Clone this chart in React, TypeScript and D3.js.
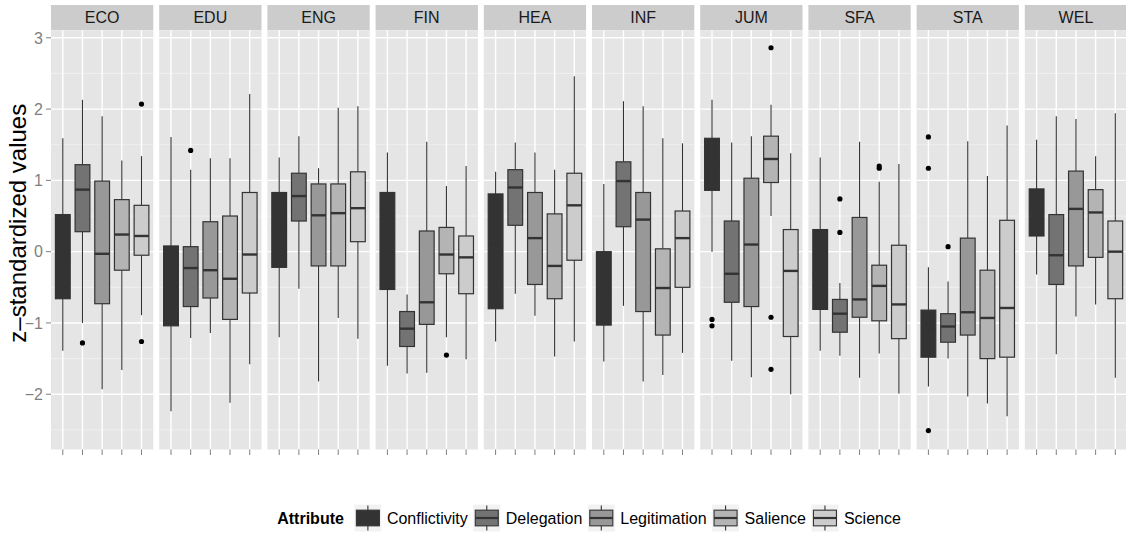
import React, { useRef, useEffect } from 'react';
import * as d3 from 'd3';

// facets and attributes
const facets = ['ECO', 'EDU', 'ENG', 'FIN', 'HEA', 'INF', 'JUM', 'SFA', 'STA', 'WEL'];
const attributes = ['Conflictivity', 'Delegation', 'Legitimation', 'Salience', 'Science'];

// box stats per facet, one row per attribute: [lower whisker, q1, median, q3, upper whisker]
const eco = [[-1.39, -0.66, -0.1, 0.52, 1.59], [-1.0, 0.28, 0.87, 1.22, 2.13], [-1.93, -0.73, -0.03, 0.99, 1.9], [-1.66, -0.26, 0.24, 0.73, 1.28], [-0.89, -0.05, 0.22, 0.65, 1.34]];
const edu = [[-2.24, -1.04, -0.3, 0.08, 1.61], [-1.21, -0.77, -0.23, 0.07, 1.15], [-1.14, -0.65, -0.26, 0.42, 1.31], [-2.12, -0.95, -0.38, 0.5, 1.31], [-1.58, -0.58, -0.04, 0.83, 2.21]];
const eng = [[-1.2, -0.22, 0.3, 0.83, 1.32], [-0.52, 0.43, 0.78, 1.1, 1.62], [-1.82, -0.2, 0.51, 0.95, 1.17], [-0.93, -0.2, 0.54, 0.95, 2.02], [-1.22, 0.14, 0.61, 1.12, 2.04]];
const fin = [[-1.6, -0.53, 0.2, 0.83, 1.39], [-1.71, -1.33, -1.08, -0.84, -0.6], [-1.7, -1.02, -0.71, 0.29, 1.54], [-1.2, -0.31, -0.04, 0.34, 0.92], [-1.51, -0.59, -0.08, 0.22, 1.2]];
const hea = [[-1.26, -0.8, 0.1, 0.81, 1.12], [-0.59, 0.37, 0.9, 1.15, 1.53], [-0.9, -0.46, 0.19, 0.83, 1.39], [-1.47, -0.66, -0.2, 0.53, 1.15], [-1.26, -0.12, 0.65, 1.1, 2.46]];
const inf = [[-1.54, -1.03, -0.5, 0.0, 0.95], [-0.76, 0.35, 0.99, 1.26, 2.11], [-1.82, -0.84, 0.45, 0.83, 2.04], [-1.73, -1.17, -0.51, 0.04, 1.59], [-1.42, -0.5, 0.19, 0.57, 1.52]];
const jum = [[0.0, 0.86, 1.2, 1.59, 2.13], [-1.53, -0.71, -0.31, 0.43, 1.53], [-1.76, -0.77, 0.1, 1.03, 1.62], [0.5, 0.97, 1.3, 1.62, 2.06], [-2.0, -1.19, -0.27, 0.31, 1.38]];
const sfa = [[-1.39, -0.81, -0.3, 0.31, 1.32], [-1.46, -1.13, -0.87, -0.67, -0.44], [-1.77, -0.92, -0.67, 0.48, 1.54], [-1.43, -0.97, -0.48, -0.19, 0.98], [-1.99, -1.22, -0.74, 0.09, 1.23]];
const sta = [[-1.89, -1.48, -1.1, -0.82, -0.22], [-1.5, -1.27, -1.05, -0.87, -0.42], [-2.03, -1.17, -0.85, 0.19, 1.55], [-2.13, -1.5, -0.93, -0.26, 1.06], [-2.31, -1.48, -0.79, 0.44, 1.77]];
const wel = [[-0.32, 0.22, 0.6, 0.88, 1.57], [-1.44, -0.46, -0.05, 0.52, 1.9], [-0.91, -0.2, 0.6, 1.13, 1.86], [-0.74, -0.08, 0.55, 0.87, 1.34], [-1.77, -0.66, 0.0, 0.43, 1.94]];
const boxStats = [eco, edu, eng, fin, hea, inf, jum, sfa, sta, wel];

// outliers: [facet, attribute index, value]
const outliers: [string, number, number][] = [
  ['ECO', 1, -1.28], ['ECO', 4, 2.07], ['ECO', 4, -1.26],
  ['EDU', 1, 1.42],
  ['FIN', 3, -1.45],
  ['JUM', 0, -0.95], ['JUM', 0, -1.04], ['JUM', 3, 2.86], ['JUM', 3, -0.92], ['JUM', 3, -1.65],
  ['SFA', 1, 0.74], ['SFA', 1, 0.27], ['SFA', 3, 1.17], ['SFA', 3, 1.2],
  ['STA', 0, 1.61], ['STA', 0, 1.17], ['STA', 0, -2.51], ['STA', 1, 0.07],
];

const yTicks = [-2, -1, 0, 1, 2, 3];
const yMinor = [-2.5, -1.5, -0.5, 0.5, 1.5, 2.5];

const fills = ['#333333', '#737373', '#989898', '#B4B4B4', '#CCCCCC'];
const FONT = '"Liberation Sans", Arial, Helvetica, sans-serif';

function App() {
  const svgRef = useRef<SVGSVGElement | null>(null);
  const width = 1126;
  const height = 534;

  useEffect(() => {
    const svg = d3.select(svgRef.current);
    svg.selectAll('*').remove();
    svg.attr('width', width).attr('height', height).style('font-family', FONT);

    const panelLeft = 51;
    const panelStep = 108.2;
    const panelW = 102.3;
    const stripTop = 5;
    const panelTop = 30.3;
    const panelBottom = 449.5;

    const y = d3.scaleLinear().domain([-2.775, 3.105]).range([panelBottom, panelTop]);
    const x = d3.scalePoint<string>().domain(attributes).range([0, panelW]).padding(0.6);
    const boxW = x.step() * 0.75;
    const color = d3.scaleOrdinal<string, string>().domain(attributes).range(fills);

    // y axis
    const yAxis = svg.append('g');
    yTicks.forEach(t => {
      yAxis.append('line')
        .attr('x1', panelLeft - 5).attr('x2', panelLeft)
        .attr('y1', y(t)).attr('y2', y(t))
        .attr('stroke', '#7F7F7F').attr('stroke-width', 1);
      yAxis.append('text')
        .attr('x', panelLeft - 8).attr('y', y(t))
        .attr('dy', '0.36em')
        .attr('text-anchor', 'end')
        .style('font-size', '16px')
        .attr('fill', '#7F7F7F')
        .text(t < 0 ? '\u2212' + Math.abs(t) : String(t));
    });

    svg.append('text')
      .attr('transform', `translate(26,${(stripTop + panelBottom) / 2 - 4}) rotate(-90)`)
      .attr('text-anchor', 'middle')
      .style('font-size', '24px')
      .attr('fill', '#000')
      .text('z\u2013standardized values');

    facets.forEach((facet, fi) => {
      const px = panelLeft + fi * panelStep;
      const g = svg.append('g').attr('transform', `translate(${px},0)`);

      // strip
      g.append('rect')
        .attr('x', 0).attr('y', stripTop)
        .attr('width', panelW).attr('height', panelTop - stripTop)
        .attr('fill', '#CCCCCC');
      g.append('text')
        .attr('x', panelW / 2).attr('y', (stripTop + panelTop) / 2)
        .attr('dy', '0.36em')
        .attr('text-anchor', 'middle')
        .style('font-size', '16px')
        .attr('fill', '#1A1A1A')
        .text(facet);

      // panel background
      g.append('rect')
        .attr('x', 0).attr('y', panelTop)
        .attr('width', panelW).attr('height', panelBottom - panelTop)
        .attr('fill', '#E5E5E5');

      yMinor.forEach(t => {
        g.append('line')
          .attr('x1', 0).attr('x2', panelW)
          .attr('y1', y(t)).attr('y2', y(t))
          .attr('stroke', '#F2F2F2').attr('stroke-width', 0.8);
      });
      yTicks.forEach(t => {
        g.append('line')
          .attr('x1', 0).attr('x2', panelW)
          .attr('y1', y(t)).attr('y2', y(t))
          .attr('stroke', '#FFFFFF').attr('stroke-width', 1.4);
      });
      attributes.forEach(a => {
        g.append('line')
          .attr('x1', x(a)!).attr('x2', x(a)!)
          .attr('y1', panelTop).attr('y2', panelBottom)
          .attr('stroke', '#FFFFFF').attr('stroke-width', 1.4);
        // x tick marks
        g.append('line')
          .attr('x1', x(a)!).attr('x2', x(a)!)
          .attr('y1', panelBottom).attr('y2', panelBottom + 5.5)
          .attr('stroke', '#7F7F7F').attr('stroke-width', 1);
      });

      // boxes
      boxStats[fi].forEach((s, ai) => {
        const a = attributes[ai];
        const cx = x(a)!;
        const [lo, q1, med, q3, hi] = s;
        g.append('line')
          .attr('x1', cx).attr('x2', cx)
          .attr('y1', y(hi)).attr('y2', y(q3))
          .attr('stroke', '#333333').attr('stroke-width', 1.1);
        g.append('line')
          .attr('x1', cx).attr('x2', cx)
          .attr('y1', y(q1)).attr('y2', y(lo))
          .attr('stroke', '#333333').attr('stroke-width', 1.1);
        g.append('rect')
          .attr('x', cx - boxW / 2).attr('y', y(q3))
          .attr('width', boxW).attr('height', y(q1) - y(q3))
          .attr('fill', color(a))
          .attr('stroke', '#333333').attr('stroke-width', 1.2);
        g.append('line')
          .attr('x1', cx - boxW / 2).attr('x2', cx + boxW / 2)
          .attr('y1', y(med)).attr('y2', y(med))
          .attr('stroke', '#333333').attr('stroke-width', 2.4);
      });

      outliers.filter(o => o[0] === facet).forEach(o => {
        g.append('circle')
          .attr('cx', x(attributes[o[1]])!)
          .attr('cy', y(o[2]))
          .attr('r', 2.6)
          .attr('fill', '#000');
      });
    });

    // legend, centred over the panel area
    const legend = svg.append('g');
    const keySize = 28;
    const cy = 518;
    let cursor = 0;
    const title = legend.append('text')
      .attr('x', 0).attr('y', cy).attr('dy', '0.36em')
      .style('font-size', '16px').style('font-weight', 'bold')
      .text('Attribute');
    cursor += (title.node() as SVGTextElement).getComputedTextLength() + 10;
    attributes.forEach(a => {
      const k = legend.append('g').attr('transform', `translate(${cursor},${cy - keySize / 2})`);
      k.append('rect')
        .attr('width', keySize).attr('height', keySize)
        .attr('fill', '#F2F2F2').attr('stroke', '#FFFFFF');
      k.append('line')
        .attr('x1', keySize / 2).attr('x2', keySize / 2)
        .attr('y1', 1.5).attr('y2', keySize - 1.5)
        .attr('stroke', '#333333').attr('stroke-width', 1.1);
      k.append('rect')
        .attr('x', 2.5).attr('y', keySize * 0.22)
        .attr('width', keySize - 5).attr('height', keySize * 0.56)
        .attr('fill', color(a))
        .attr('stroke', '#333333').attr('stroke-width', 1.1);
      k.append('line')
        .attr('x1', 2.5).attr('x2', keySize - 2.5)
        .attr('y1', keySize / 2).attr('y2', keySize / 2)
        .attr('stroke', '#333333').attr('stroke-width', 2.2);
      cursor += keySize + 5;
      const t = legend.append('text')
        .attr('x', cursor).attr('y', cy).attr('dy', '0.36em')
        .style('font-size', '16px')
        .attr('fill', '#000')
        .text(a);
      cursor += (t.node() as SVGTextElement).getComputedTextLength() + 5;
    });
    const legendW = cursor - 5;
    const center = panelLeft + (9 * panelStep + panelW) / 2;
    legend.attr('transform', `translate(${center - legendW / 2},0)`);
  }, []);

  return (
    <svg ref={svgRef} style={{ position: 'absolute', left: 0, top: 0, background: '#fff' }} />
  );
}

export default App;
